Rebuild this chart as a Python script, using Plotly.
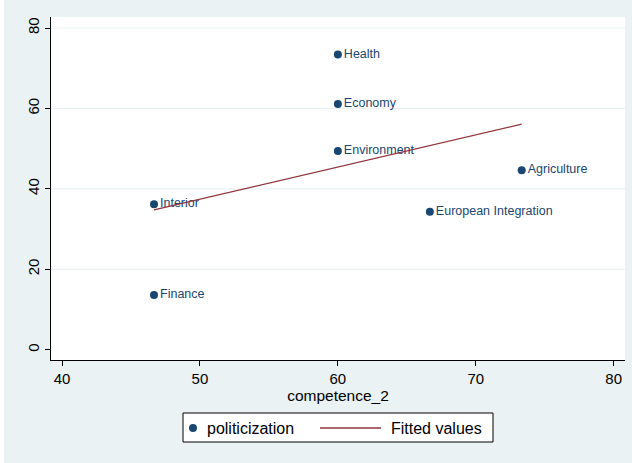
import numpy as np
import plotly.graph_objects as go

# Policy areas: competence score vs. politicization
areas = ["Health", "Economy", "Environment", "Agriculture",
         "European Integration", "Interior", "Finance"]
competence_2 = [60.0, 60.0, 60.0, 73.33, 66.67, 46.67, 46.67]
politicization = [73.4, 61.1, 49.4, 44.6, 34.3, 36.2, 13.6]

x_ticks = [40, 50, 60, 70, 80]
y_ticks = [0, 20, 40, 60, 80]

NAVY = "#1a476f"
MAROON = "#90353b"
BG = "#eaf2f3"
FONT = "Liberation Sans, Arial, Helvetica, sans-serif"

# Linear fit (fitted values over the observed range)
slope, intercept = np.polyfit(competence_2, politicization, 1)
fit_x = [min(competence_2), max(competence_2)]
fit_y = [slope * v + intercept for v in fit_x]

fig = go.Figure()

fig.add_trace(go.Scatter(
    x=competence_2, y=politicization, mode="markers+text",
    text=areas, textposition="middle right",
    textfont=dict(family=FONT, size=12.5, color=NAVY),
    marker=dict(color=NAVY, size=8),
    name="politicization", showlegend=False, cliponaxis=False,
))

fig.add_trace(go.Scatter(
    x=fit_x, y=fit_y, mode="lines",
    line=dict(color=MAROON, width=1.3),
    name="Fitted values", showlegend=False,
))

shapes = []
# horizontal gridlines
for t in y_ticks[1:]:
    shapes.append(dict(type="line", xref="paper", yref="y", x0=0, x1=1,
                       y0=t, y1=t, line=dict(color=BG, width=1.2),
                       layer="below"))
# thin white strip along the left edge of the page
W, H = 632, 463
L, R, T, B = 51, 7, 17, 103
pw, ph = W - L - R, H - T - B


def px_x(p):
    return (p - L) / pw


def px_y(p):
    return (H - B - p) / ph


shapes.append(dict(type="rect", xref="paper", yref="paper",
                   x0=px_x(0), x1=px_x(4), y0=px_y(H), y1=px_y(0),
                   fillcolor="white", line=dict(width=0), layer="below"))

# legend box
shapes.append(dict(type="rect", xref="paper", yref="paper",
                   x0=px_x(183), x1=px_x(493), y0=px_y(442), y1=px_y(413),
                   fillcolor="white", line=dict(color="black", width=1)))
# legend marker and line keys
shapes.append(dict(type="circle", xref="paper", yref="paper",
                   x0=px_x(189), x1=px_x(197), y0=px_y(432), y1=px_y(424),
                   fillcolor=NAVY, line=dict(width=0)))
shapes.append(dict(type="line", xref="paper", yref="paper",
                   x0=px_x(320), x1=px_x(381), y0=px_y(428), y1=px_y(428),
                   line=dict(color=MAROON, width=1.3)))

annotations = [
    dict(text="politicization", xref="paper", yref="paper",
         x=px_x(205), y=px_y(428), xanchor="left", yanchor="middle",
         showarrow=False, font=dict(family=FONT, size=16, color="black")),
    dict(text="Fitted values", xref="paper", yref="paper",
         x=px_x(389), y=px_y(428), xanchor="left", yanchor="middle",
         showarrow=False, font=dict(family=FONT, size=16, color="black")),
]

fig.update_layout(
    width=W, height=H,
    margin=dict(l=L, r=R, t=T, b=B),
    paper_bgcolor=BG, plot_bgcolor="white",
    font=dict(family=FONT, color="black"),
    shapes=shapes, annotations=annotations,
    showlegend=False,
)

fig.update_xaxes(
    range=[39.2, 80.82], tickvals=x_ticks, showgrid=False, zeroline=False,
    showline=True, linecolor="black", linewidth=1,
    ticks="outside", ticklen=5, tickcolor="black",
    tickfont=dict(size=15), title=dict(text="competence_2",
                                       font=dict(size=15.5), standoff=4),
)
fig.update_yaxes(
    range=[-2.56, 82.74], tickvals=y_ticks, showgrid=False, zeroline=False,
    showline=True, linecolor="black", linewidth=1,
    ticks="outside", ticklen=5, tickcolor="black",
    tickfont=dict(size=15), tickangle=-90,
)

fig.write_html("out.html")
